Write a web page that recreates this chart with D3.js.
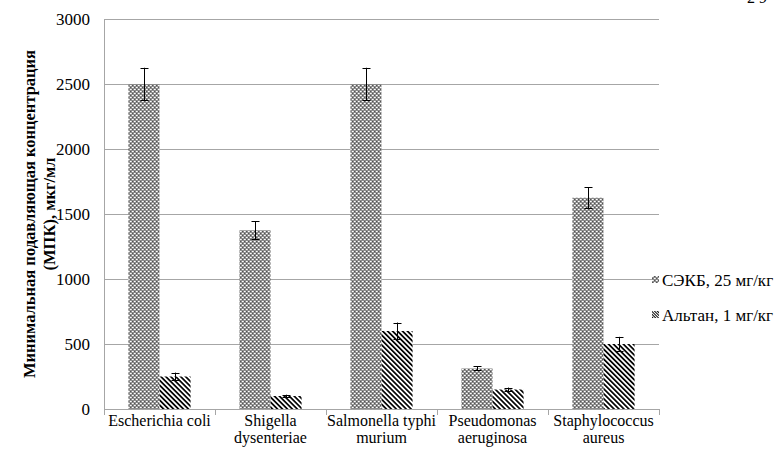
<!DOCTYPE html>
<html>
<head>
<meta charset="utf-8">
<script src="https://d3js.org/d3.v7.min.js"></script>
</head>
<body style="margin:0; background:#fff">
<div id="chart"></div>
<script>
// data
var categories = [["Escherichia coli"], ["Shigella", "dysenteriae"], ["Salmonella typhi", "murium"], ["Pseudomonas", "aeruginosa"], ["Staphylococcus", "aureus"]];
var seriesNames = ["СЭКБ, 25 мг/кг", "Альтан, 1 мг/кг"];
var sekbValues = [2500, 1375, 2500, 312, 1625];
var sekbErrors = [125, 70, 125, 15, 80];
var altanValues = [250, 100, 600, 150, 500];
var altanErrors = [30, 10, 65, 15, 55];
var yTicks = [0, 500, 1000, 1500, 2000, 2500, 3000];

var FONT = "Liberation Serif";
var W = 784, H = 456;
var margin = {top: 19, right: 125, bottom: 47, left: 104};
var width = W - margin.left - margin.right,
    height = H - margin.top - margin.bottom;

var svg = d3.select("#chart").append("svg")
    .attr("width", W).attr("height", H)
    .attr("font-family", FONT);

// patterns
var defs = svg.append("defs");
var p1 = defs.append("pattern").attr("id", "dots")
    .attr("patternUnits", "userSpaceOnUse").attr("width", 4).attr("height", 4);
p1.append("rect").attr("width", 4).attr("height", 4).attr("fill", "#8c8c8c");
p1.append("rect").attr("x", 0).attr("y", 0).attr("width", 1).attr("height", 1).attr("fill", "#fff");
p1.append("rect").attr("x", 2).attr("y", 2).attr("width", 1).attr("height", 1).attr("fill", "#fff");
p1.append("rect").attr("x", 1).attr("y", 0).attr("width", 1).attr("height", 1).attr("fill", "#d8d8d8");
p1.append("rect").attr("x", 3).attr("y", 2).attr("width", 1).attr("height", 1).attr("fill", "#d8d8d8");
p1.append("rect").attr("x", 2).attr("y", 0).attr("width", 1).attr("height", 1).attr("fill", "#555");
p1.append("rect").attr("x", 0).attr("y", 2).attr("width", 1).attr("height", 1).attr("fill", "#555");

var p2 = defs.append("pattern").attr("id", "hatch")
    .attr("patternUnits", "userSpaceOnUse").attr("width", 3.5).attr("height", 3.5)
    .attr("patternTransform", "rotate(-45)");
p2.append("rect").attr("width", 3.5).attr("height", 3.5).attr("fill", "#fff");
p2.append("rect").attr("width", 1.7).attr("height", 3.5).attr("fill", "#000");

var p3 = defs.append("pattern").attr("id", "hatchSmall")
    .attr("patternUnits", "userSpaceOnUse").attr("width", 2).attr("height", 2)
    .attr("patternTransform", "rotate(-45)");
p3.append("rect").attr("width", 2).attr("height", 2).attr("fill", "#fff");
p3.append("rect").attr("width", 1).attr("height", 2).attr("fill", "#000");

var fills = ["url(#dots)", "url(#hatch)"];
var legendFills = ["url(#dots)", "url(#hatchSmall)"];

var g = svg.append("g").attr("transform", "translate(" + margin.left + "," + margin.top + ")");

var x = d3.scaleBand().domain(d3.range(categories.length)).range([0, width]).padding(0);
var xs = d3.scaleBand().domain([0, 1]).range([x.bandwidth() * 0.22, x.bandwidth() * 0.78]);
var y = d3.scaleLinear().domain([0, 3000]).range([height, 0]);

// grid
g.selectAll(".grid").data(yTicks.slice(1)).enter().append("line")
    .attr("x1", 0).attr("x2", width)
    .attr("y1", function(d) { return y(d); }).attr("y2", function(d) { return y(d); })
    .attr("stroke", "#a6a6a6").attr("stroke-width", 1).attr("shape-rendering", "crispEdges");

// y axis
var yAxis = g.append("g").call(d3.axisLeft(y).tickValues(yTicks).tickSize(0).tickPadding(14).tickFormat(d3.format("d")));
yAxis.attr("font-family", FONT).attr("font-size", 17);
yAxis.select(".domain").attr("stroke", "#a6a6a6").attr("shape-rendering", "crispEdges");
yAxis.selectAll("text").attr("fill", "#000");

// x axis
var xAxis = g.append("g").attr("transform", "translate(0," + height + ")")
    .call(d3.axisBottom(x).tickSize(0).tickFormat(""));
xAxis.select(".domain").attr("stroke", "#a6a6a6").attr("shape-rendering", "crispEdges");
g.selectAll(".xtick").data(d3.range(categories.length + 1)).enter().append("line")
    .attr("x1", function(d) { return d * x.step(); }).attr("x2", function(d) { return d * x.step(); })
    .attr("y1", height).attr("y2", height + 6)
    .attr("stroke", "#a6a6a6").attr("shape-rendering", "crispEdges");

g.selectAll(".xlabel").data(categories).enter().append("text")
    .attr("text-anchor", "middle")
    .attr("font-family", FONT).attr("font-size", 16)
    .attr("transform", function(d, i) { return "translate(" + (x(i) + x.bandwidth() / 2) + "," + (height + 17) + ")"; })
    .each(function(d) {
        var t = d3.select(this);
        d.forEach(function(line, k) {
            t.append("tspan").attr("x", 0).attr("y", k * 17).text(line);
        });
    });

// bars
var series = [
    {vals: sekbValues, errs: sekbErrors},
    {vals: altanValues, errs: altanErrors}
];
series.forEach(function(s, si) {
    var grp = g.append("g");
    grp.selectAll("rect").data(s.vals).enter().append("rect")
        .attr("x", function(d, i) { return x(i) + xs(si); })
        .attr("width", xs.bandwidth())
        .attr("y", function(d) { return y(d); })
        .attr("height", function(d) { return height - y(d); })
        .attr("fill", fills[si]);
    var eb = grp.selectAll(".err").data(s.vals).enter().append("g")
        .attr("transform", function(d, i) { return "translate(" + Math.round(x(i) + xs(si) + xs.bandwidth() / 2) + ".5,0)"; });
    eb.append("line").attr("x1", 0).attr("x2", 0)
        .attr("y1", function(d, i) { return y(d + s.errs[i]); })
        .attr("y2", function(d, i) { return y(d - s.errs[i]); })
        .attr("stroke", "#000");
    [1, -1].forEach(function(sg) {
        eb.append("line").attr("x1", -4).attr("x2", 4)
            .attr("y1", function(d, i) { return Math.round(y(d + sg * s.errs[i])) + 0.5; })
            .attr("y2", function(d, i) { return Math.round(y(d + sg * s.errs[i])) + 0.5; })
            .attr("stroke", "#000");
    });
});

// y title
var yt = svg.append("text")
    .attr("transform", "translate(35," + (margin.top + height / 2) + ") rotate(-90)")
    .attr("text-anchor", "middle")
    .attr("font-family", FONT).attr("font-size", 16.5).attr("font-weight", "bold");
yt.append("tspan").attr("x", 0).attr("y", 0).text("Минимальная подавляющая концентрация");
yt.append("tspan").attr("x", 0).attr("y", 20).text("(МПК), мкг/мл");

// legend
var leg = svg.append("g").attr("transform", "translate(652,280)");
seriesNames.forEach(function(n, i) {
    var r = leg.append("g").attr("transform", "translate(0," + (i * 35) + ")");
    r.append("rect").attr("x", 0).attr("y", -4).attr("width", 7).attr("height", 7).attr("fill", legendFills[i]);
    r.append("text").attr("x", 10).attr("y", 6)
        .attr("font-family", FONT).attr("font-size", 17).text(n);
});

// page number, cut at the top edge as in the source
svg.append("text").attr("x", 757).attr("y", 3).attr("text-anchor", "middle")
    .attr("font-family", FONT).attr("font-size", 16).text("2 9");
</script>
</body>
</html>
